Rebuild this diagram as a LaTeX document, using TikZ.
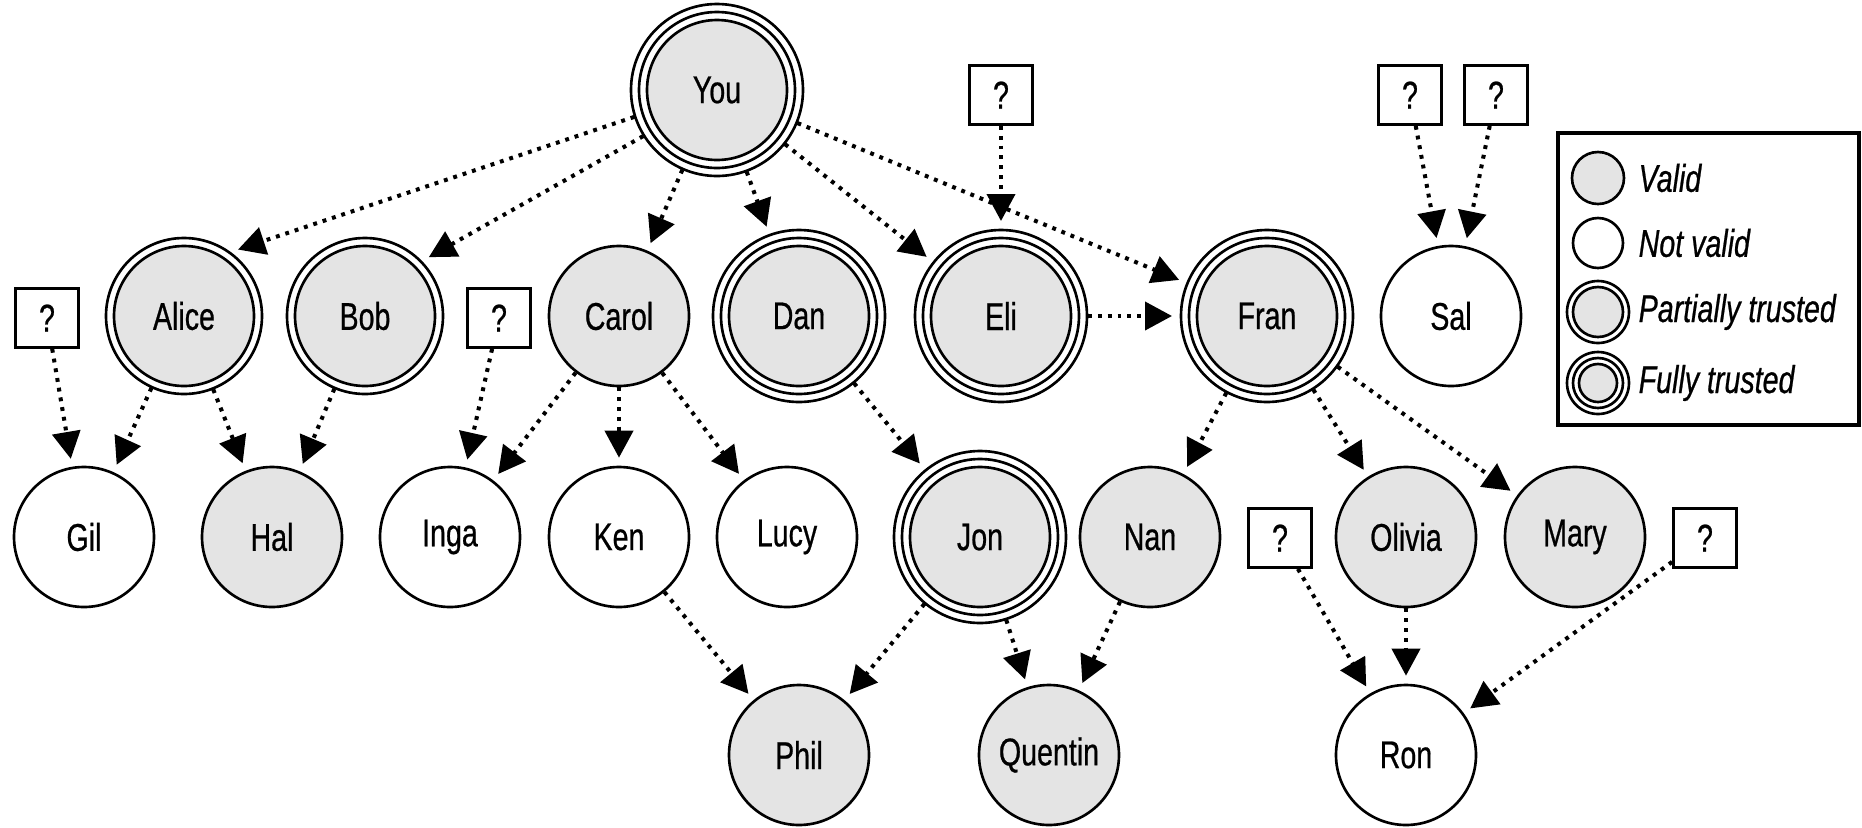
\documentclass[tikz,border=0pt]{standalone}
\usepackage{fontspec}
\setmainfont{Liberation Sans}[FakeStretch=0.74, FakeBold=0.6]
\usetikzlibrary{arrows.meta}
\definecolor{validgray}{HTML}{E4E4E4}

\begin{document}
\begin{tikzpicture}[x=0.1mm, y=-0.1mm,
  person/.style={circle, draw, line width=0.75pt, minimum size=14mm, inner sep=0pt,
    font=\fontsize{11}{13}\selectfont},
  valid/.style={person, fill=validgray},
  notvalid/.style={person, fill=white},
  partial/.style={valid, outer sep=0.9mm},
  full/.style={valid, outer sep=1.7mm},
  unknown/.style={draw, line width=0.8pt, fill=white, minimum width=6.3mm, minimum height=5.9mm,
    inner sep=0pt, font=\fontsize{11}{13}\selectfont},
  ring/.style={line width=0.75pt},
  sig/.style={line width=1.15pt, dash pattern=on 1.1pt off 1.7pt,
    -{Triangle[length=2.7mm,width=2.8mm]}, shorten >=0.8mm},
  legendtext/.style={anchor=west, inner sep=0pt, font=\fontsize{11}{13}\selectfont\itshape}]
\useasboundingbox (0,0) rectangle (1862,827);

% top
\node[full] (You) at (717,90) {You};

% second row
\node[partial] (Alice) at (184,316) {Alice};
\node[partial] (Bob) at (365,316) {Bob};
\node[valid] (Carol) at (619,316) {Carol};
\node[full] (Dan) at (799,316) {Dan};
\node[full] (Eli) at (1001,316) {Eli};
\node[full] (Fran) at (1267,316) {Fran};
\node[notvalid] (Sal) at (1451,316) {Sal};

% third row
\node[notvalid] (Gil) at (84,537) {Gil};
\node[valid] (Hal) at (272,537) {Hal};
\node[notvalid] (Inga) at (450,537) {Inga};
\node[notvalid] (Ken) at (619,537) {Ken};
\node[notvalid] (Lucy) at (787,537) {Lucy};
\node[full] (Jon) at (980,537) {Jon};
\node[valid] (Nan) at (1150,537) {Nan};
\node[valid] (Olivia) at (1406,537) {Olivia};
\node[valid] (Mary) at (1575,537) {Mary};

% bottom row
\node[valid] (Phil) at (799,755) {Phil};
\node[valid] (Quentin) at (1049,755) {Quentin};
\node[notvalid] (Ron) at (1406,755) {Ron};

% unknown signers
\node[unknown] (qEli) at (1001,95) {?};
\node[unknown] (qSalA) at (1410,95) {?};
\node[unknown] (qSalB) at (1496,95) {?};
\node[unknown] (qGil) at (47,318) {?};
\node[unknown] (qInga) at (499,318) {?};
\node[unknown] (qRonA) at (1280,538) {?};
\node[unknown] (qRonB) at (1705,538) {?};

% trust rings
\foreach \n in {Alice,Bob}
  \draw[ring] (\n.center) circle (78);
\foreach \n in {You,Dan,Eli,Fran,Jon} {
  \draw[ring] (\n.center) circle (78);
  \draw[ring] (\n.center) circle (86);
}

% signatures
\draw[sig] (You.198) -- (Alice.54);
\draw[sig] (You.212) -- (Bob.44);
\foreach \a/\b in {You/Carol, You/Dan, You/Eli, You/Fran,
    qEli/Eli, Eli/Fran, qSalA/Sal, qSalB/Sal,
    qGil/Gil, Alice/Gil, Alice/Hal, Bob/Hal,
    qInga/Inga, Carol/Inga, Carol/Ken, Carol/Lucy, Dan/Jon,
    Fran/Nan, Fran/Olivia, Fran/Mary,
    Ken/Phil, Jon/Phil, Jon/Quentin, Nan/Quentin,
    qRonA/Ron, Olivia/Ron, qRonB/Ron}
  \draw[sig] (\a) -- (\b);

% legend
\draw[line width=0.9pt] (1558,133) rectangle (1859,425);
\node[valid, minimum size=5.2mm] (lgValid) at (1598,178) {};
\node[notvalid, minimum size=5mm] (lgNot) at (1598,243) {};
\node[valid, minimum size=5mm] (lgPart) at (1598,312) {};
\draw[ring] (lgPart.center) circle (31);
\node[valid, minimum size=3.8mm] (lgFull) at (1598,383) {};
\draw[ring] (lgFull.center) circle (25);
\draw[ring] (lgFull.center) circle (31);
\node[legendtext] (lgValidText) at (1638,178) {Valid};
\node[legendtext] (lgNotText) at (1638,243) {Not valid};
\node[legendtext] (lgPartText) at (1638,312) {Partially trusted};
\node[legendtext] (lgFullText) at (1638,383) {Fully trusted};
\end{tikzpicture}
\end{document}
